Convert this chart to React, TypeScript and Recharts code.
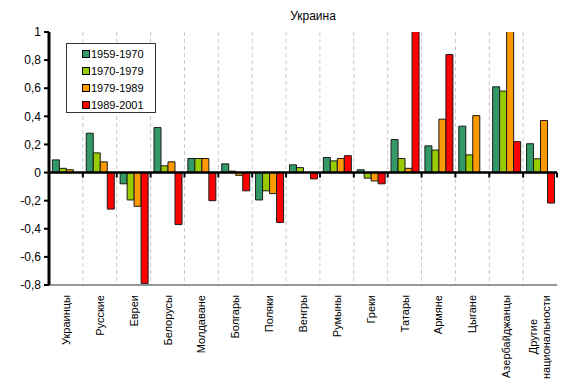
import React from 'react';
import {
  BarChart,
  Bar,
  XAxis,
  YAxis,
  CartesianGrid,
  ReferenceLine,
  Legend,
} from 'recharts';

const categories = [
  'Украинцы',
  'Русские',
  'Евреи',
  'Белорусы',
  'Молдаване',
  'Болгары',
  'Поляки',
  'Венгры',
  'Румыны',
  'Греки',
  'Татары',
  'Армяне',
  'Цыгане',
  'Азербайджанцы',
  'Другие национальности',
];

const s1959 = [0.09, 0.28, -0.08, 0.32, 0.1, 0.062, -0.195, 0.055, 0.107, 0.02, 0.235, 0.19, 0.33, 0.61, 0.205];
const s1970 = [0.03, 0.14, -0.195, 0.048, 0.1, 0.01, -0.13, 0.035, 0.083, -0.04, 0.1, 0.16, 0.126, 0.58, 0.098];
const s1979 = [0.02, 0.076, -0.24, 0.076, 0.1, -0.02, -0.15, 0, 0.1, -0.06, 0.03, 0.38, 0.405, 1.1, 0.37];
const s1989 = [0, -0.26, -0.79, -0.37, -0.2, -0.13, -0.355, -0.045, 0.12, -0.08, 1.1, 0.84, 0, 0.22, -0.217];

const yTicks = [-0.8, -0.6, -0.4, -0.2, 0, 0.2, 0.4, 0.6, 0.8, 1];

const series = [
  { key: 'p1', name: '1959-1970', color: '#339966' },
  { key: 'p2', name: '1970-1979', color: '#99CC00' },
  { key: 'p3', name: '1979-1989', color: '#FF9900' },
  { key: 'p4', name: '1989-2001', color: '#FF0000' },
];

const data = categories.map((name, i) => ({
  name,
  p1: s1959[i],
  p2: s1970[i],
  p3: s1979[i],
  p4: s1989[i],
}));

const FONT = '"Liberation Sans", Arial, sans-serif';
const N = categories.length;

// category label, rotated so it reads bottom-to-top and hangs from the axis
const CategoryTick = (props: any) => {
  const { x, y, payload } = props;
  const top = y + 4;
  const words = String(payload.value).split(' ');
  if (words.length > 1) {
    return (
      <g>
        <text
          transform={`rotate(-90, ${x + 6}, ${top})`}
          x={x + 6}
          y={top}
          textAnchor="end"
          dominantBaseline="central"
          fontSize={11}
          fontFamily={FONT}
          fill="#000"
        >
          {words[1]}
        </text>
        <text
          transform={`rotate(-90, ${x - 7}, ${top + 24})`}
          x={x - 7}
          y={top + 24}
          textAnchor="end"
          dominantBaseline="central"
          fontSize={11}
          fontFamily={FONT}
          fill="#000"
        >
          {words[0]}
        </text>
      </g>
    );
  }
  return (
    <text
      transform={`rotate(-90, ${x}, ${top})`}
      x={x}
      y={top}
      textAnchor="end"
      dominantBaseline="central"
      fontSize={11}
      fontFamily={FONT}
      fill="#000"
    >
      {payload.value}
    </text>
  );
};

// zero line with small tick marks at the category boundaries
const ZeroLine = (props: any) => {
  const { x1, y1, x2 } = props;
  const step = (x2 - x1) / N;
  const marks = [];
  for (let i = 1; i <= N; i++) {
    const x = x1 + step * i;
    marks.push(<line key={i} x1={x} y1={y1} x2={x} y2={y1 + 5} stroke="#000" strokeWidth={2} />);
  }
  return (
    <g>
      <line x1={x1} y1={y1} x2={x2} y2={y1} stroke="#000" strokeWidth={2.5} />
      {marks}
    </g>
  );
};

const LegendBox = () => (
  <div
    style={{
      border: '1px solid #333',
      background: '#fff',
      width: 90,
      height: 70,
      boxSizing: 'border-box',
      paddingTop: 1,
      fontFamily: FONT,
      fontSize: 11,
    }}
  >
    {series.map((s) => (
      <div key={s.key} style={{ display: 'flex', alignItems: 'center', height: 17, paddingLeft: 15 }}>
        <span
          style={{
            display: 'inline-block',
            width: 6,
            height: 6,
            background: s.color,
            border: '1px solid #000',
            marginRight: 1,
          }}
        />
        <span>{s.name}</span>
      </div>
    ))}
  </div>
);

const App = () => {
  return (
    <div style={{ position: 'absolute', left: 0, top: 0, width: 582, height: 384, background: '#fff' }}>
      <div
        style={{
          position: 'absolute',
          left: 0,
          width: 626,
          top: 9,
          textAlign: 'center',
          fontFamily: FONT,
          fontSize: 12,
        }}
      >
        Украина
      </div>
      <BarChart
        width={582}
        height={384}
        data={data}
        margin={{ top: 32, right: 25, bottom: 9, left: 9 }}
        barCategoryGap="10%"
        barGap={0}
      >
        <CartesianGrid
          horizontal={false}
          stroke="#c8c8c8"
          strokeDasharray="4 3"
          verticalCoordinatesGenerator={({ offset }: any) =>
            Array.from({ length: N - 1 }, (_, i) => offset.left + ((i + 1) * offset.width) / N)
          }
        />
        <XAxis
          dataKey="name"
          interval={0}
          height={90}
          tickLine={false}
          axisLine={{ stroke: '#333', strokeWidth: 1 }}
          tick={<CategoryTick />}
          tickMargin={0}
        />
        <XAxis xAxisId="top" dataKey="name" orientation="top" height={0} tick={false} tickLine={false} axisLine={{ stroke: '#333' }} />
        <YAxis
          domain={[-0.8, 1]}
          ticks={yTicks}
          allowDataOverflow
          width={40}
          interval={0}
          axisLine={{ stroke: '#000', strokeWidth: 3 }}
          tickLine={{ stroke: '#000', strokeWidth: 2 }}
          tickSize={5}
          tickMargin={3}
          tickFormatter={(v: number) => String(v).replace('.', ',')}
          tick={{ fontSize: 12, fontFamily: FONT, fill: '#000' }}
        />
        <YAxis yAxisId="right" orientation="right" width={0} tick={false} tickLine={false} axisLine={{ stroke: '#333' }} />
        <Legend
          content={<LegendBox />}
          layout="horizontal"
          verticalAlign="middle"
          align="center"
          wrapperStyle={{ position: 'absolute', left: 66, top: 43, width: 90, height: 70 }}
        />
        {series.map((s) => (
          <Bar
            key={s.key}
            dataKey={s.key}
            name={s.name}
            fill={s.color}
            stroke="#1a1a1a"
            strokeWidth={1}
            isAnimationActive={false}
          />
        ))}
        <ReferenceLine y={0} shape={<ZeroLine />} />
      </BarChart>
    </div>
  );
};

export default App;
